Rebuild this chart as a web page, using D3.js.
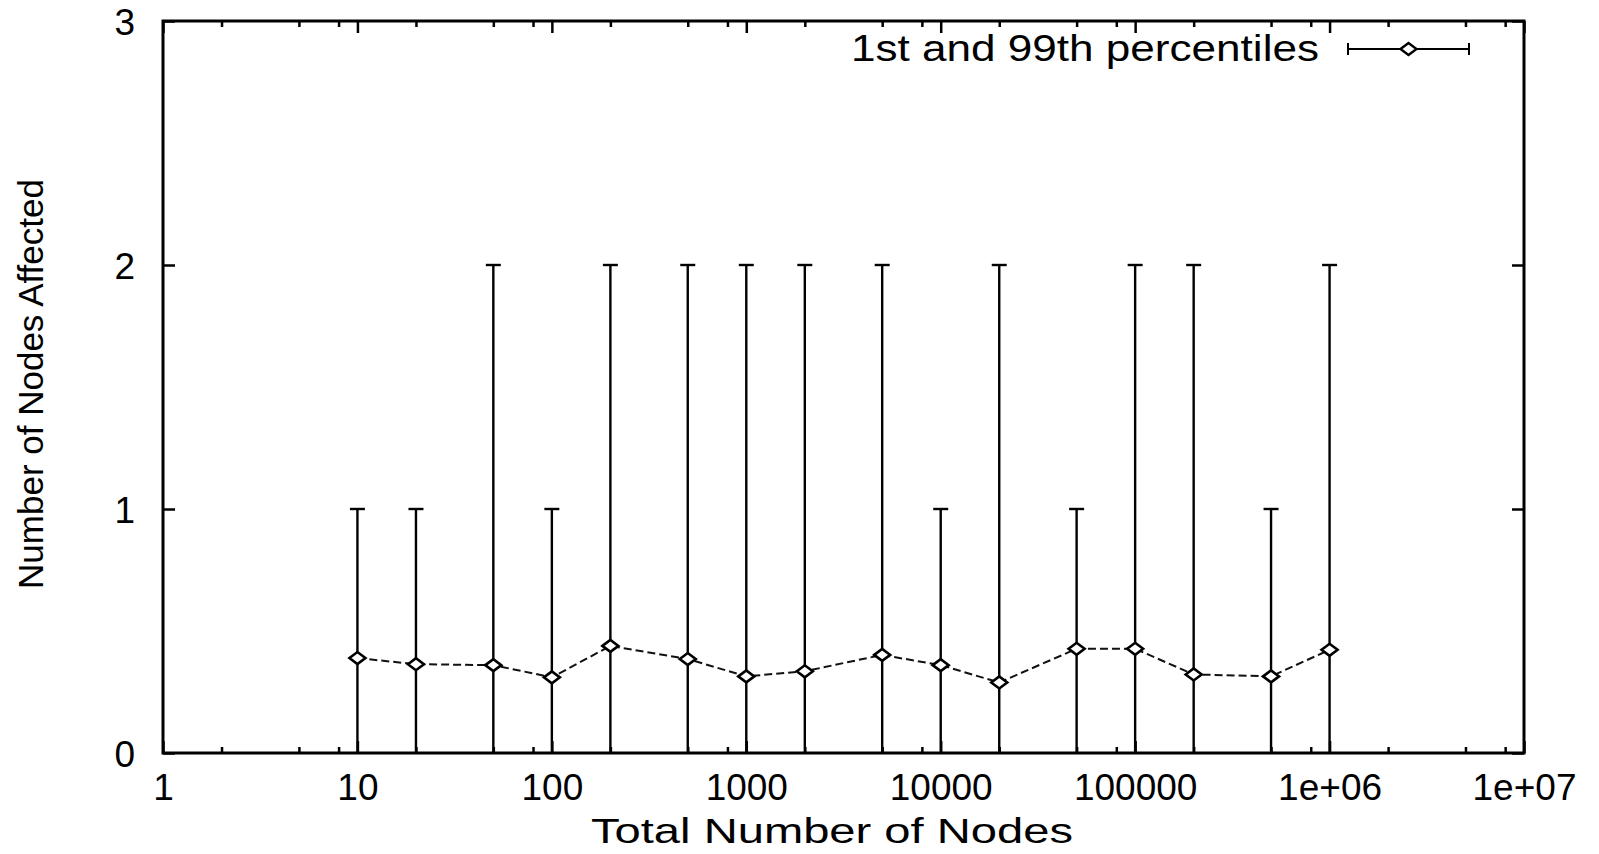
<!DOCTYPE html>
<html>
<head>
<meta charset="utf-8">
<script src="https://cdn.jsdelivr.net/npm/d3@7"></script>
<style>
  body { margin: 0; background: #fff; }
  svg text { font-family: "Liberation Sans", Arial, Helvetica, sans-serif; fill: #000; }
</style>
</head>
<body>
<svg id="chart" width="1599" height="854"></svg>
<script>
// node counts on the x axis (log scale)
const node_counts = [10, 20, 50, 100, 200, 500, 1000, 2000, 5000, 10000, 20000, 50000, 100000, 200000, 500000, 1000000];
// mean number of nodes affected
const mean_values = [0.389, 0.364, 0.360, 0.310, 0.439, 0.385, 0.314, 0.335, 0.402, 0.360, 0.289, 0.427, 0.427, 0.322, 0.314, 0.423];
// 1st and 99th percentiles
const low_values = [0, 0, 0, 0, 0, 0, 0, 0, 0, 0, 0, 0, 0, 0, 0, 0];
const high_values = [1, 1, 2, 1, 2, 2, 2, 2, 2, 1, 2, 1, 2, 2, 1, 2];

// tick labels
const x_major_ticks = [1, 10, 100, 1000, 10000, 100000, 1000000, 10000000];
const x_tick_labels = ["1", "10", "100", "1000", "10000", "100000", "1e+06", "1e+07"];
const y_ticks = [0, 1, 2, 3];

// minor ticks sit at 2, 5 and 8 of each decade
let x_minor_ticks = [];
x_major_ticks.slice(0, -1).forEach(function(d) {
    [2, 5, 8].forEach(m => x_minor_ticks.push(d * m));
});

let data = node_counts.map(function(n, i) {
    return { n: n, mean: mean_values[i], low: low_values[i], high: high_values[i] };
});

let svg = d3.select("#chart");

let dimensions = {
    left: 163,
    right: 1524,
    top: 21,
    bottom: 753,
};

// scales
const xScale = d3.scaleLog()
    .domain([1, 1e7])
    .range([dimensions.left, dimensions.right]);

const yScale = d3.scaleLinear()
    .domain([0, 3])
    .range([dimensions.bottom, dimensions.top]);

const major_len = 12;
const minor_len = 6;
const label_size = 37;

// bottom axis with labels
const xAxis = svg.append("g")
    .attr("transform", `translate(0, ${dimensions.bottom})`)
    .call(d3.axisBottom(xScale)
        .tickValues(x_major_ticks)
        .tickFormat((d, i) => x_tick_labels[i])
        .tickSizeInner(-major_len)
        .tickSizeOuter(0)
        .tickPadding(21));
xAxis.selectAll("text").attr("font-size", label_size).attr("dy", "0.71em");

svg.append("g")
    .attr("transform", `translate(0, ${dimensions.bottom})`)
    .call(d3.axisBottom(xScale).tickValues(x_minor_ticks).tickFormat("").tickSizeInner(-minor_len).tickSizeOuter(0));

// top axis, ticks only
svg.append("g")
    .attr("transform", `translate(0, ${dimensions.top})`)
    .call(d3.axisTop(xScale).tickValues(x_major_ticks).tickFormat("").tickSizeInner(-major_len).tickSizeOuter(0));
svg.append("g")
    .attr("transform", `translate(0, ${dimensions.top})`)
    .call(d3.axisTop(xScale).tickValues(x_minor_ticks).tickFormat("").tickSizeInner(-minor_len).tickSizeOuter(0));

// left axis with labels
const yAxis = svg.append("g")
    .attr("transform", `translate(${dimensions.left}, 0)`)
    .call(d3.axisLeft(yScale)
        .tickValues(y_ticks)
        .tickFormat(d3.format("d"))
        .tickSizeInner(-major_len)
        .tickSizeOuter(0)
        .tickPadding(28));
yAxis.selectAll("text").attr("font-size", label_size).attr("dy", "0.36em");

// right axis, ticks only
svg.append("g")
    .attr("transform", `translate(${dimensions.right}, 0)`)
    .call(d3.axisRight(yScale).tickValues(y_ticks).tickFormat("").tickSizeInner(-major_len).tickSizeOuter(0));

// style every axis the same way
svg.selectAll(".domain").remove();
svg.selectAll(".tick line").attr("stroke", "#000").attr("stroke-width", 2.5);

// plot frame
svg.append("rect")
    .attr("x", dimensions.left)
    .attr("y", dimensions.top)
    .attr("width", dimensions.right - dimensions.left)
    .attr("height", dimensions.bottom - dimensions.top)
    .attr("fill", "none")
    .attr("stroke", "#000")
    .attr("stroke-width", 3);

// error bars
const cap = 7.5;
const bars = svg.append("g").attr("stroke", "#000").attr("stroke-width", 2.4);

bars.selectAll(".bar")
    .data(data)
    .join("line")
    .attr("x1", d => xScale(d.n))
    .attr("x2", d => xScale(d.n))
    .attr("y1", d => yScale(d.low))
    .attr("y2", d => yScale(d.high));

bars.selectAll(".cap-top")
    .data(data)
    .join("line")
    .attr("x1", d => xScale(d.n) - cap)
    .attr("x2", d => xScale(d.n) + cap)
    .attr("y1", d => yScale(d.high))
    .attr("y2", d => yScale(d.high));

// dashed line through the means
const line_generator = d3.line()
    .x(d => xScale(d.n))
    .y(d => yScale(d.mean));

svg.append("path")
    .attr("d", line_generator(data))
    .attr("fill", "none")
    .attr("stroke", "#111")
    .attr("stroke-width", 2)
    .attr("stroke-dasharray", "8,4");

// diamond markers
function diamond(x, y) {
    return `M${x - 8},${y} L${x},${y - 6} L${x + 8},${y} L${x},${y + 6} Z`;
}

svg.append("g")
    .selectAll("path")
    .data(data)
    .join("path")
    .attr("d", d => diamond(xScale(d.n), yScale(d.mean)))
    .attr("fill", "#fff")
    .attr("stroke", "#000")
    .attr("stroke-width", 2.6);

// legend
const legend = svg.append("g");
legend.append("text")
    .attr("x", 1319)
    .attr("y", 61)
    .attr("text-anchor", "end")
    .attr("font-size", 36)
    .attr("textLength", 468)
    .attr("lengthAdjust", "spacingAndGlyphs")
    .text("1st and 99th percentiles");

const lx1 = 1348, lx2 = 1469, ly = 49;
legend.append("line").attr("x1", lx1).attr("x2", lx2).attr("y1", ly).attr("y2", ly)
    .attr("stroke", "#000").attr("stroke-width", 2);
legend.append("line").attr("x1", lx1).attr("x2", lx1).attr("y1", ly - 6).attr("y2", ly + 6)
    .attr("stroke", "#000").attr("stroke-width", 2);
legend.append("line").attr("x1", lx2).attr("x2", lx2).attr("y1", ly - 6).attr("y2", ly + 6)
    .attr("stroke", "#000").attr("stroke-width", 2);
legend.append("path")
    .attr("d", diamond((lx1 + lx2) / 2, ly))
    .attr("fill", "#fff")
    .attr("stroke", "#000")
    .attr("stroke-width", 2.4);

// axis titles
svg.append("text")
    .attr("x", 832)
    .attr("y", 843)
    .attr("text-anchor", "middle")
    .attr("font-size", 35)
    .attr("textLength", 482)
    .attr("lengthAdjust", "spacingAndGlyphs")
    .text("Total Number of Nodes");

svg.append("text")
    .attr("transform", "translate(43, 384) rotate(-90)")
    .attr("text-anchor", "middle")
    .attr("font-size", 35)
    .text("Number of Nodes Affected");
</script>
</body>
</html>
